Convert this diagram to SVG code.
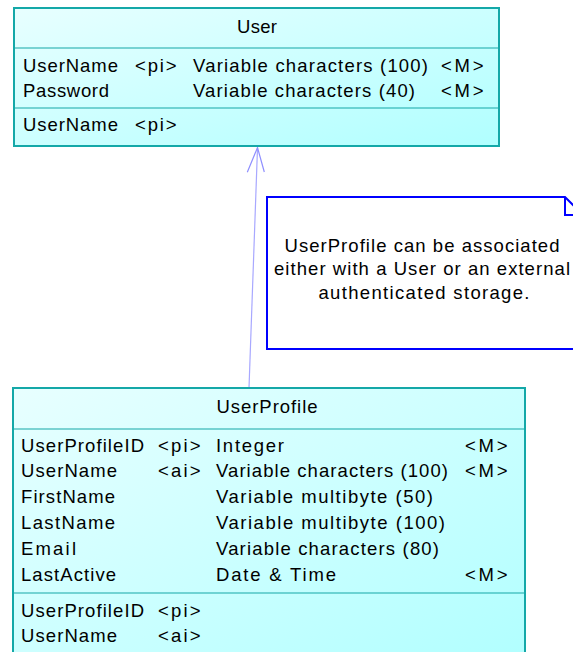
<svg xmlns="http://www.w3.org/2000/svg" width="573" height="652" viewBox="0 0 573 652">
<defs>
<linearGradient id="cyan" x1="0" y1="0" x2="1" y2="1">
<stop offset="0" stop-color="#e8ffff"/>
<stop offset="1" stop-color="#b0ffff"/>
</linearGradient>
<style>
.box{stroke:#14a8a8;stroke-width:2;fill:url(#cyan);}
.sep{stroke:#14a8a8;stroke-width:1.2;}
text{font-family:"Liberation Sans",Arial,sans-serif;font-size:18.5px;fill:#000;}
.c{text-anchor:middle;}
.note{fill:#fff;stroke:#0000ff;stroke-width:2;}
.link{stroke:#a8a8ff;stroke-width:1.2;fill:none;}
.head{stroke:#8f8fff;stroke-width:1.2;fill:none;}
</style>
</defs>
<g id="connectors">
<line class="link" x1="249" y1="388" x2="257.5" y2="148"/>
<path class="head" d="M247.3,172.3 L257.5,147.5 L264.3,172"/>
</g>
<g id="User">
<rect class="box" x="14" y="8" width="485" height="138"/>
<line class="sep" x1="14" y1="48" x2="499" y2="48"/>
<line class="sep" x1="14" y1="108" x2="499" y2="108"/>
<text class="c" x="257" y="33" textLength="40" lengthAdjust="spacing">User</text>
<text x="23" y="72" textLength="95" lengthAdjust="spacing">UserName</text><text x="135" y="72" textLength="41.5" lengthAdjust="spacing">&lt;pi&gt;</text><text x="193" y="72" textLength="235" lengthAdjust="spacing">Variable characters (100)</text><text x="441" y="72" textLength="42.5" lengthAdjust="spacing">&lt;M&gt;</text>
<text x="23" y="97" textLength="86" lengthAdjust="spacing">Password</text><text x="193" y="97" textLength="222" lengthAdjust="spacing">Variable characters (40)</text><text x="441" y="97" textLength="42.5" lengthAdjust="spacing">&lt;M&gt;</text>
<text x="23" y="131" textLength="95" lengthAdjust="spacing">UserName</text><text x="135" y="131" textLength="41.5" lengthAdjust="spacing">&lt;pi&gt;</text>
</g>
<g id="note">
<path class="note" d="M267,197 H565 L583,215 V349 H267 Z"/>
<path d="M565,197 V215 H583" fill="none" stroke="#0000ff" stroke-width="2"/>
<text class="c" x="422" y="252" textLength="275" lengthAdjust="spacing">UserProfile can be associated</text>
<text class="c" x="422" y="275" textLength="296" lengthAdjust="spacing">either with a User or an external</text>
<text class="c" x="424" y="299" textLength="211" lengthAdjust="spacing">authenticated storage.</text>
</g>
<g id="UserProfile">
<rect class="box" x="13" y="388" width="512" height="280"/>
<line class="sep" x1="13" y1="429" x2="525" y2="429"/>
<line class="sep" x1="13" y1="593" x2="525" y2="593"/>
<text class="c" x="267" y="413" textLength="101" lengthAdjust="spacing">UserProfile</text>
<text x="21" y="452" textLength="123" lengthAdjust="spacing">UserProfileID</text><text x="158" y="452" textLength="42.5" lengthAdjust="spacing">&lt;pi&gt;</text><text x="216" y="452" textLength="68" lengthAdjust="spacing">Integer</text><text x="465" y="452" textLength="42.5" lengthAdjust="spacing">&lt;M&gt;</text>
<text x="21" y="477" textLength="96" lengthAdjust="spacing">UserName</text><text x="158" y="477" textLength="42.5" lengthAdjust="spacing">&lt;ai&gt;</text><text x="216" y="477" textLength="232" lengthAdjust="spacing">Variable characters (100)</text><text x="465" y="477" textLength="42.5" lengthAdjust="spacing">&lt;M&gt;</text>
<text x="21" y="503" textLength="94" lengthAdjust="spacing">FirstName</text><text x="216" y="503" textLength="217" lengthAdjust="spacing">Variable multibyte (50)</text>
<text x="21" y="529" textLength="94" lengthAdjust="spacing">LastName</text><text x="216" y="529" textLength="229" lengthAdjust="spacing">Variable multibyte (100)</text>
<text x="21" y="555" textLength="55" lengthAdjust="spacing">Email</text><text x="216" y="555" textLength="223" lengthAdjust="spacing">Variable characters (80)</text>
<text x="21" y="581" textLength="95" lengthAdjust="spacing">LastActive</text><text x="216" y="581" textLength="120" lengthAdjust="spacing">Date &amp; Time</text><text x="465" y="581" textLength="42.5" lengthAdjust="spacing">&lt;M&gt;</text>
<text x="21" y="617" textLength="123" lengthAdjust="spacing">UserProfileID</text><text x="158" y="617" textLength="42.5" lengthAdjust="spacing">&lt;pi&gt;</text>
<text x="21" y="642" textLength="96" lengthAdjust="spacing">UserName</text><text x="158" y="642" textLength="42.5" lengthAdjust="spacing">&lt;ai&gt;</text>
</g>
</svg>
